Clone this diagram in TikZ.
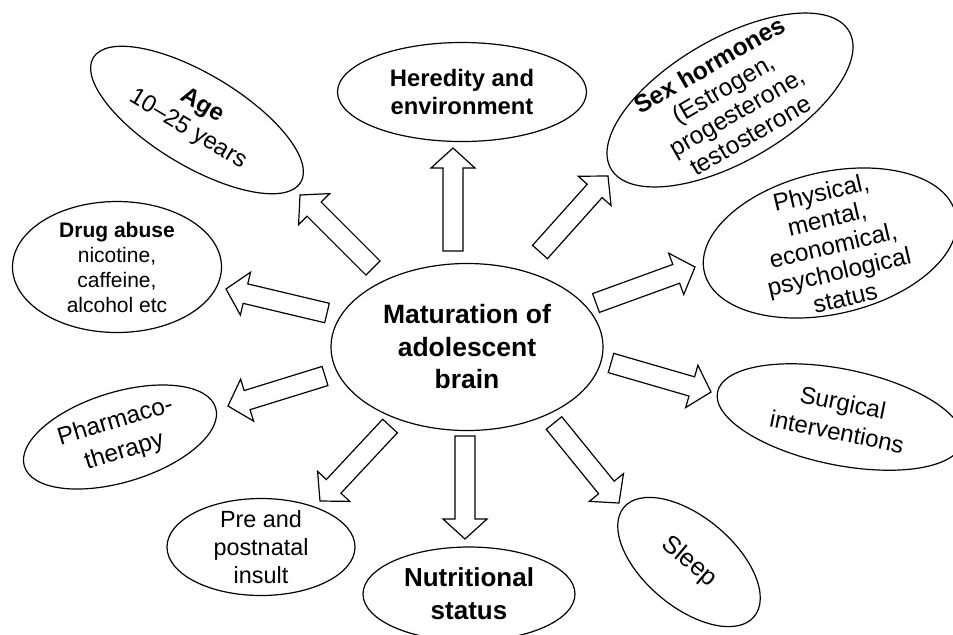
\documentclass[tikz,border=0pt]{standalone}
\usepackage{fontspec}
\setmainfont{Liberation Sans}
\usetikzlibrary{shapes.geometric, calc}

\tikzset{
  bubble/.style={ellipse, draw, line width=0.6pt, inner sep=0pt},
  txt/.style={align=center, inner sep=0pt, font=\fontsize{12}{14}\selectfont},
  blockarrow/.style={draw, line width=0.6pt, line join=miter, to path={
    let \p1=(\tikztostart), \p2=(\tikztotarget), \p3=($(\p2)!10pt!(\p1)$) in
    ($(\p1)!5pt!90:(\p2)$) -- ($(\p3)!5pt!90:(\p2)$) -- ($(\p3)!11pt!90:(\p2)$)
    -- (\p2) -- ($(\p3)!11pt!-90:(\p2)$) -- ($(\p3)!5pt!-90:(\p2)$)
    -- ($(\p1)!5pt!-90:(\p2)$) -- cycle}}
}

\begin{document}
\begin{tikzpicture}[x=0.5pt, y=-0.5pt]
  \useasboundingbox (0,0) rectangle (953,634);

  % centre
  \node[bubble, minimum width=136pt, minimum height=83.5pt] (brain) at (467,347) {};
  \node[txt, font=\bfseries\fontsize{13.25}{16.25}\selectfont] (brain_t) at (brain.center) {Maturation of\\adolescent\\brain};

  % factors round it
  \node[bubble, minimum width=121pt, minimum height=46pt, rotate=-31] (age) at (197,120) {};
  \node[txt, rotate=-31] (age_t) at (195,118) {\textbf{Age}\\10--25 years};

  \node[bubble, minimum width=124.5pt, minimum height=49.5pt] (heredity) at (462,92) {};
  \node[txt, font=\bfseries\fontsize{11.9}{14}\selectfont] (heredity_t) at (heredity.center) {Heredity and\\environment};

  \node[bubble, minimum width=137.5pt, minimum height=61.5pt, rotate=30] (hormones) at (730,100) {};
  \node[txt, font=\fontsize{12.3}{13.5}\selectfont, rotate=30] (hormones_t) at (hormones.center) {\textbf{Sex hormones}\\(Estrogen,\\progesterone,\\testosterone};

  \node[bubble, minimum width=129pt, minimum height=71pt, rotate=13] (status) at (830,243) {};
  \node[txt, font=\fontsize{12.2}{13.5}\selectfont, rotate=13] (status_t) at (833,245) {Physical,\\mental,\\economical,\\psychological\\status};

  \node[bubble, minimum width=125pt, minimum height=48pt, rotate=-11.5] (surgery) at (840,417) {};
  \node[txt, font=\fontsize{12}{15}\selectfont, rotate=-11.5] (surgery_t) at (surgery.center) {Surgical\\interventions};

  \node[bubble, minimum width=85pt, minimum height=45pt, rotate=-40] (sleep) at (689,562) {};
  \node[txt, font=\fontsize{12.5}{15}\selectfont, rotate=-40] (sleep_t) at (sleep.center) {Sleep};

  \node[bubble, minimum width=106pt, minimum height=47pt] (nutrition) at (469,594) {};
  \node[txt, font=\bfseries\fontsize{13}{16.5}\selectfont] (nutrition_t) at (nutrition.center) {Nutritional\\status};

  \node[bubble, minimum width=94pt, minimum height=48.5pt] (insult) at (261,547) {};
  \node[txt, font=\fontsize{11.7}{14}\selectfont] (insult_t) at (insult.center) {Pre and\\postnatal\\insult};

  \node[bubble, minimum width=100pt, minimum height=45pt, rotate=17] (pharma) at (120,437) {};
  \node[txt, font=\fontsize{12.2}{15.5}\selectfont, rotate=17] (pharma_t) at (pharma.center) {Pharmaco-\\therapy};

  \node[bubble, minimum width=104.5pt, minimum height=65.5pt] (drugs) at (117,267) {};
  \node[txt, font=\fontsize{10.5}{12.5}\selectfont] (drugs_t) at (drugs.center) {\textbf{Drug abuse}\\nicotine,\\caffeine,\\alcohol etc};

  % block arrows, tail to tip
  \path (373,268) coordinate (age_from)       (300,195) coordinate (age_to);
  \path (453,251) coordinate (heredity_from)  (453,148) coordinate (heredity_to);
  \path (540,252) coordinate (hormones_from)  (608,176) coordinate (hormones_to);
  \path (596,303) coordinate (status_from)    (695,267) coordinate (status_to);
  \path (611,363) coordinate (surgery_from)   (711,392) coordinate (surgery_to);
  \path (554,423) coordinate (sleep_from)     (619,503) coordinate (sleep_to);
  \path (465,436) coordinate (nutrition_from) (465,539) coordinate (nutrition_to);
  \path (390,426) coordinate (insult_from)    (320,501) coordinate (insult_to);
  \path (325,376) coordinate (pharma_from)    (228,406) coordinate (pharma_to);
  \path (327,313) coordinate (drugs_from)     (226,289) coordinate (drugs_to);

  \draw[blockarrow] (age_from) to (age_to);
  \draw[blockarrow] (heredity_from) to (heredity_to);
  \draw[blockarrow] (hormones_from) to (hormones_to);
  \draw[blockarrow] (status_from) to (status_to);
  \draw[blockarrow] (surgery_from) to (surgery_to);
  \draw[blockarrow] (sleep_from) to (sleep_to);
  \draw[blockarrow] (nutrition_from) to (nutrition_to);
  \draw[blockarrow] (insult_from) to (insult_to);
  \draw[blockarrow] (pharma_from) to (pharma_to);
  \draw[blockarrow] (drugs_from) to (drugs_to);
\end{tikzpicture}
\end{document}
